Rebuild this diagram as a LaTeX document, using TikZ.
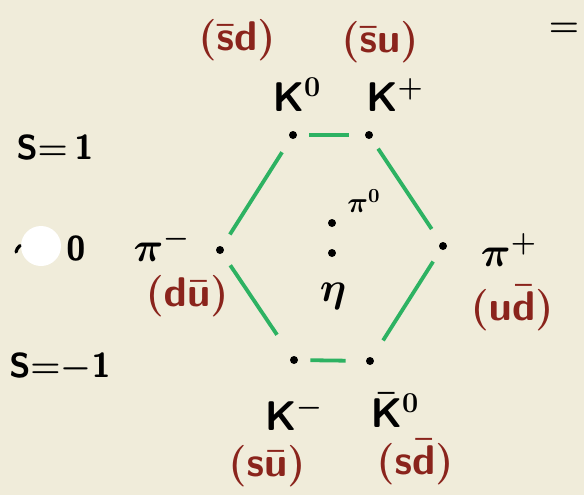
\documentclass[tikz,border=0pt]{standalone}
\usepackage{amsmath}
\usepackage{tikz}
\usetikzlibrary{positioning}
\definecolor{paper}{RGB}{240,236,218}
\definecolor{octgreen}{RGB}{45,178,98}
\definecolor{quarkred}{RGB}{138,36,28}
\tikzset{
  meson/.style   = {circle, fill=black, inner sep=0pt, minimum size=4pt},
  octet/.style   = {draw=octgreen, line width=1.9pt, shorten <=7pt, shorten >=8pt},
  mesonlbl/.style= {font=\fontsize{21}{25}\selectfont\boldmath, inner sep=0pt},
  quark/.style   = {font=\fontsize{21}{25}\selectfont\boldmath, text=quarkred, inner sep=0pt},
  strange/.style = {font=\fontsize{19}{23}\selectfont\boldmath, inner sep=0pt},
}

\begin{document}
\begin{tikzpicture}[x=0.5pt, y=-0.5pt]
    % ── Paper ───────────────────────────────────────────────────
    \fill[paper] (0,0) rectangle (584,495);
    \useasboundingbox (0,0) rectangle (584,495);

    % ── Mesons (dots) ───────────────────────────────────────────
    \node[meson] (K0)   at (293,135) {};
    \node[meson] (Kp)   at (369,135) {};
    \node[meson] (pim)  at (220,250) {};
    \node[meson] (pip)  at (443,246) {};
    \node[meson] (Km)   at (294,360) {};
    \node[meson] (aK0)  at (370,361) {};
    \node[meson] (pi0)  at (332,223) {};
    \node[meson] (eta)  at (332,253) {};

    % ── Hexagon ─────────────────────────────────────────────────
    \draw[octet, shorten <=6pt] (K0) -- (Kp);
    \draw[octet, shorten <=6pt] (Kp) -- (pip);
    \draw[octet, shorten >=10pt] (pip) -- (aK0);
    \draw[octet, shorten <=6pt, shorten >=10pt] (Km) -- (aK0);
    \draw[octet, shorten >=13pt] (pim) -- (Km);
    \draw[octet] (pim) -- (K0);

    % ── Names ───────────────────────────────────────────────────
    \node[mesonlbl] (lK0)  at (297,95)  {$\mathsf{K}^{0}$};
    \node[mesonlbl] (lKp)  at (395,95)  {$\mathsf{K}^{+}$};
    \node[mesonlbl] (lpim) at (162,245) {$\pi^{-}$};
    \node[mesonlbl] (lpip) at (509,250) {$\pi^{+}$};
    \node[mesonlbl] (lKm)  at (294,414) {$\mathsf{K}^{-}$};
    \node[mesonlbl] (laK0) at (395,410) {$\bar{\mathsf{K}}^{0}$};
    \node[font=\fontsize{14}{17}\selectfont\boldmath, inner sep=0pt] (lpi0) at (364,201) {$\pi^{0}$};
    \node[mesonlbl] (leta) at (333,296) {$\eta$};

    % ── Quark content ───────────────────────────────────────────
    \node[quark] (qK0)  at (237,40)  {$(\bar{\mathsf{s}}\mathsf{d})$};
    \node[quark] (qKp)  at (380,42)  {$(\bar{\mathsf{s}}\mathsf{u})$};
    \node[quark] (qpim) at (187,296) {$(\mathsf{d}\bar{\mathsf{u}})$};
    \node[quark] (qpip) at (512,308) {$(\mathsf{u}\bar{\mathsf{d}})$};
    \node[quark] (qKm)  at (267,466) {$(\mathsf{s}\bar{\mathsf{u}})$};
    \node[quark] (qaK0) at (415,462) {$(\mathsf{s}\bar{\mathsf{d}})$};

    % ── Strangeness rows ────────────────────────────────────────
    \node[strange] (s1)  at (55,147)  {$\mathsf{S}{=}\,\mathsf{1}$};
    \node[strange] (s0)  at (76,248)  {$\mathsf{0}$};
    \node[strange] (sm1) at (60,368)  {$\mathsf{S}{=}{-}\mathsf{1}$};
    \node[strange] (eq)  at (564,30)  {$=$};

    % punched hole over the S of the middle row
    \fill[white] (41,246) circle[radius=20];
    \draw[line width=1.6pt, line cap=round] (16,252) arc[start angle=190, end angle=235, radius=10];
  \end{tikzpicture}
\end{document}
